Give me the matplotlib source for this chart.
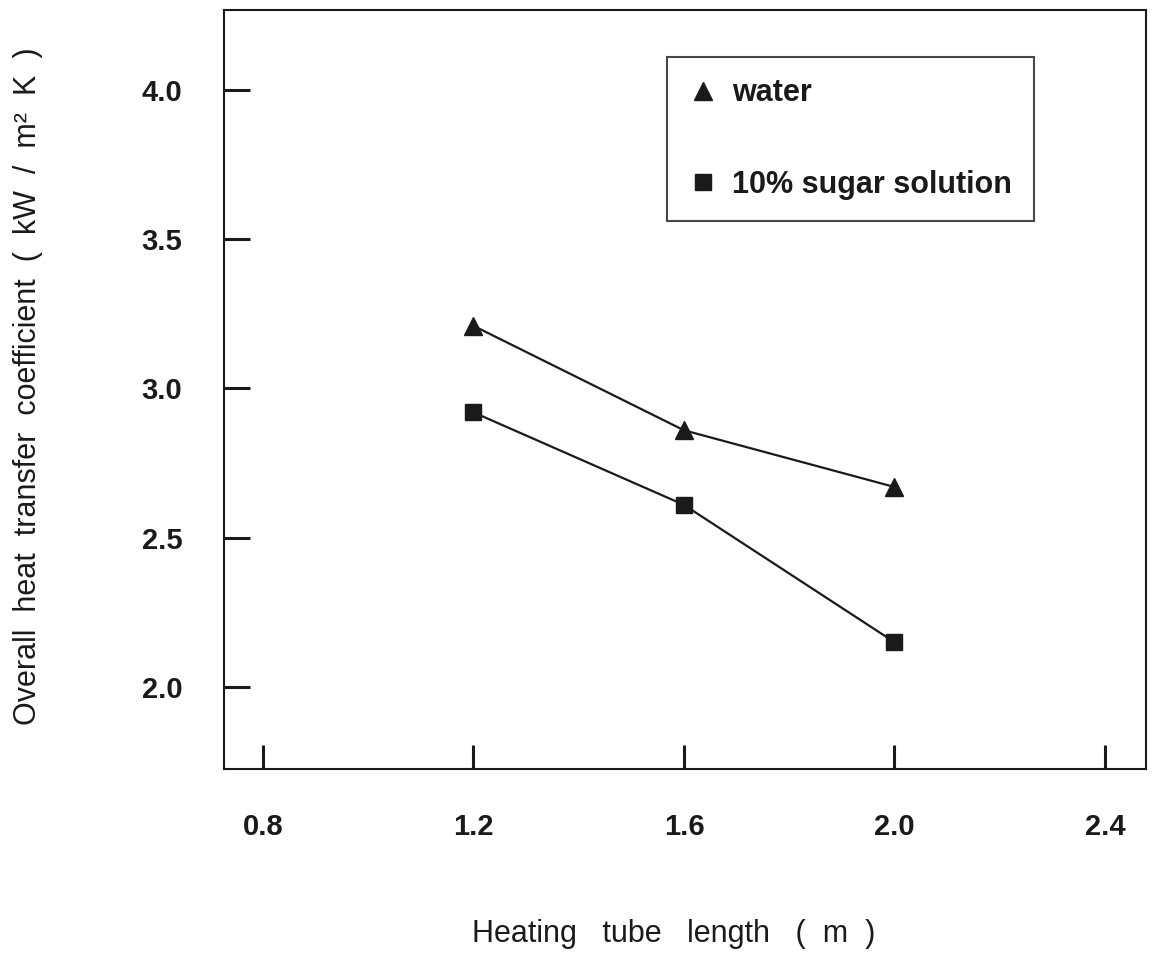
import matplotlib
matplotlib.use('Agg')
import matplotlib.pyplot as plt

plt.rcParams['font.family'] = ['Liberation Sans', 'DejaVu Sans']

# tube length (m)
length = [1.2, 1.6, 2.0]
# overall heat transfer coefficient (kW / m2 K)
u_water = [3.21, 2.86, 2.67]
u_sugar = [2.92, 2.61, 2.15]

xticks = [0.8, 1.2, 1.6, 2.0, 2.4]
yticks = [2.0, 2.5, 3.0, 3.5, 4.0]

fig = plt.figure(figsize=(11.53, 9.56), dpi=100)
ax = fig.add_axes([0.1943, 0.1956, 0.7996, 0.7939])

ax.plot(length, u_water, color='#1a1a1a', lw=1.6)
ax.plot(length, u_sugar, color='#1a1a1a', lw=1.6)
ax.plot(length, u_water, ls='none', marker='^', ms=13, color='#1a1a1a', label='water')
ax.plot(length, u_sugar, ls='none', marker='s', ms=12, color='#1a1a1a', label='10% sugar solution')

ax.set_xlim(0.726, 2.478)
ax.set_ylim(1.725, 4.268)
ax.set_xticks(xticks)
ax.set_yticks(yticks)
ax.set_xticklabels(['%.1f' % v for v in xticks])
ax.set_yticklabels(['%.1f' % v for v in yticks])

for s in ax.spines.values():
    s.set_linewidth(1.5)
    s.set_color('#1a1a1a')

ax.tick_params(axis='x', direction='in', length=17, width=2.2, pad=32, color='#1a1a1a')
ax.tick_params(axis='y', direction='in', length=19, width=2.2, pad=30, color='#1a1a1a')
for lab in ax.get_xticklabels() + ax.get_yticklabels():
    lab.set_fontsize(21)
    lab.set_fontweight('bold')
    lab.set_color('#1a1a1a')

ax.set_xlabel('Heating   tube   length   (  m  )', fontsize=22, color='#1a1a1a')
ax.xaxis.set_label_coords(0.488, -0.198)
ax.set_ylabel('Overall  heat  transfer  coefficient  (  kW  /  m²  K  )', fontsize=22,
              color='#1a1a1a', va='center')
ax.yaxis.set_label_coords(-0.213, 0.505)

leg = ax.legend(loc='upper left', bbox_to_anchor=(0.480, 0.938), frameon=True,
                fancybox=False, edgecolor='#1a1a1a', handlelength=1.0, handletextpad=0.45,
                borderpad=0.7, labelspacing=2.0, borderaxespad=0,
                prop={'size': 22, 'weight': 'bold'}, markerscale=1.0)
leg.get_frame().set_linewidth(1.5)
for t in leg.get_texts():
    t.set_color('#1a1a1a')

fig.savefig('out.png', dpi=100)
